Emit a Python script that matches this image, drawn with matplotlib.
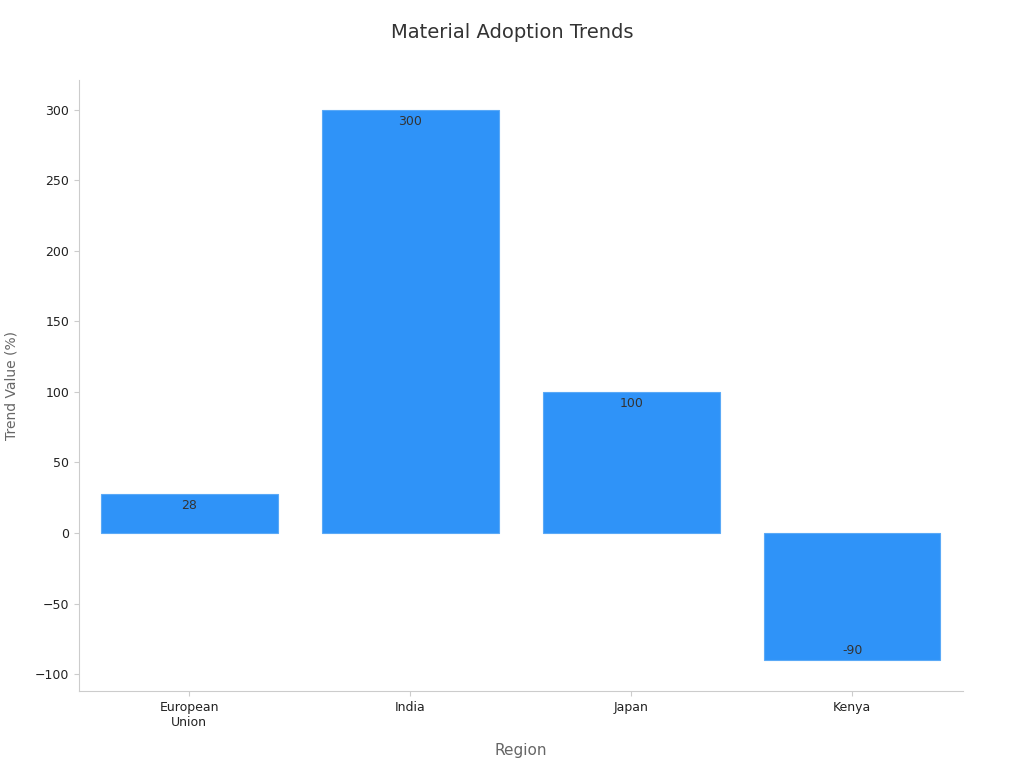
import matplotlib
matplotlib.use("Agg")
import matplotlib.pyplot as plt

regions = ["European\nUnion", "India", "Japan", "Kenya"]
values = [28, 300, 100, -90]

fig, ax = plt.subplots(figsize=(10.24, 7.68), dpi=100)
fig.subplots_adjust(left=0.077, right=0.94, top=0.896, bottom=0.1)

bars = ax.bar(range(len(regions)), values, width=0.8, color="#2f93f8", edgecolor="#5aa9f7", linewidth=0.8)
for i, v in enumerate(values):
    if v >= 0:
        ax.annotate(str(v), (i, v), xytext=(0, -4), textcoords="offset points",
                    ha="center", va="top", fontsize=9, color="#333333")
    else:
        ax.annotate(str(v), (i, v), xytext=(0, 2), textcoords="offset points",
                    ha="center", va="bottom", fontsize=9, color="#333333")

ax.set_xlim(-0.5, 3.5)
ax.set_ylim(-112, 321)
ax.set_xticks(range(len(regions)))
ax.set_xticklabels(regions)
ax.set_yticks([-100, -50, 0, 50, 100, 150, 200, 250, 300])
ax.set_yticklabels(["\u2212100", "\u221250", "0", "50", "100", "150", "200", "250", "300"])
ax.tick_params(labelsize=9, colors="#222222")
ax.tick_params(axis="both", color="#cccccc")
for s in ["top", "right"]:
    ax.spines[s].set_visible(False)
for s in ["left", "bottom"]:
    ax.spines[s].set_color("#cccccc")

ax.set_xlabel("Region", fontsize=11, color="#666666", labelpad=10)
ax.set_ylabel("Trend Value (%)", fontsize=10, color="#666666", labelpad=12)
fig.suptitle("Material Adoption Trends", fontsize=14, color="#333333", y=0.97)

fig.savefig("out.png")
